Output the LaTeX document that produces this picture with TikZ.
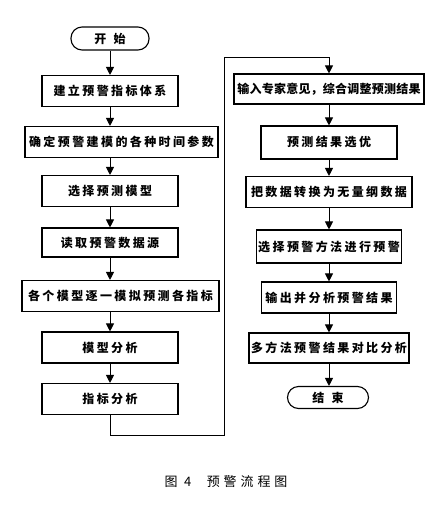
\documentclass[tikz,border=0pt]{standalone}
\usepackage{fontspec}
\setmainfont{Liberation Serif}
\newfontfamily\cjk[LetterSpace=20]{Noto Sans CJK SC}
\newfontfamily\cjktight[LetterSpace=2]{Noto Sans CJK SC}
\newfontfamily\cjkwide[LetterSpace=60]{Noto Sans CJK SC}
\newfontfamily\cjkcap[LetterSpace=30]{Noto Sans CJK SC}
\usetikzlibrary{arrows.meta}
\tikzset{
  box/.style={draw, line width=1.1pt, minimum height=31pt, inner sep=0pt,
    font=\cjk\bfseries\fontsize{12}{14}\selectfont},
  term/.style={box, rounded corners=11pt, minimum height=22pt,
    font=\cjkwide\bfseries\fontsize{12}{14}\selectfont},
  arr/.style={-{Triangle[width=8pt,length=8pt]}, line width=0.9pt},
}
\begin{document}
\begin{tikzpicture}[x=1pt,y=-1pt]
\useasboundingbox (0,0) rectangle (438,507);
% left column
\node[term, minimum width=78pt, minimum height=23pt] (start) at (110,38.5) {开始};
\node[box, minimum width=136pt] (b1) at (110,91) {建立预警指标体系};
\node[box, minimum width=193pt] (b2) at (121.5,142) {确定预警建模的各种时间参数};
\node[box, minimum width=136pt] (b3) at (110,191) {选择预测模型};
\node[box, minimum width=136pt, minimum height=29pt] (b4) at (110,242.5) {读取预警数据源};
\node[box, minimum width=197pt] (b5) at (120.5,296) {各个模型逐一模拟预测各指标};
\node[box, minimum width=136pt] (b6) at (110,347.5) {模型分析};
\node[box, minimum width=136pt] (b7) at (110,399) {指标分析};
% right column
\node[box, minimum width=190pt, minimum height=30pt, font=\cjktight\bfseries\fontsize{12}{14}\selectfont] (r1) at (329,89) {输入专家意见，综合调整预测结果};
\node[box, minimum width=136pt, minimum height=33pt] (r2) at (329,142.5) {预测结果选优};
\node[box, minimum width=166pt] (r3) at (329,192) {把数据转换为无量纲数据};
\node[box, minimum width=145pt, minimum height=33pt] (r4) at (329,246.5) {选择预警方法进行预警};
\node[box, minimum width=135pt] (r5) at (329,297.5) {输出并分析预警结果};
\node[box, minimum width=160pt, minimum height=30pt] (r6) at (329,348) {多方法预警结果对比分析};
\node[term, minimum width=81pt] (end) at (328,397.5) {结束};
% connectors left
\draw[arr] (start) -- (b1);
\draw[arr] (b1.south) -- (b1.south |- b2.north);
\draw[arr] (b3.north |- b2.south) -- (b3.north);
\draw[arr] (b3) -- (b4);
\draw[arr] (b4.south) -- (b4.south |- b5.north);
\draw[arr] (b6.north |- b5.south) -- (b6.north);
\draw[arr] (b6) -- (b7);
% loop
\coordinate (c1) at (224,435);
\coordinate (c2) at (224,57);
\draw[arr] (b7.south) |- (c1) -- (c2) -| (r1.north);
% connectors right
\draw[arr] (r1) -- (r2);
\draw[arr] (r2) -- (r3);
\draw[arr] (r3) -- (r4);
\draw[arr] (r4) -- (r5);
\draw[arr] (r5) -- (r6);
\draw[arr] (r6.south) -- (r6.south |- end.north);
% caption
\node[font=\cjkcap\fontsize{13}{15}\selectfont] (cap) at (226,482) {图\hspace{0.5em}4\hspace{1.2em}预警流程图};
\end{tikzpicture}
\end{document}
